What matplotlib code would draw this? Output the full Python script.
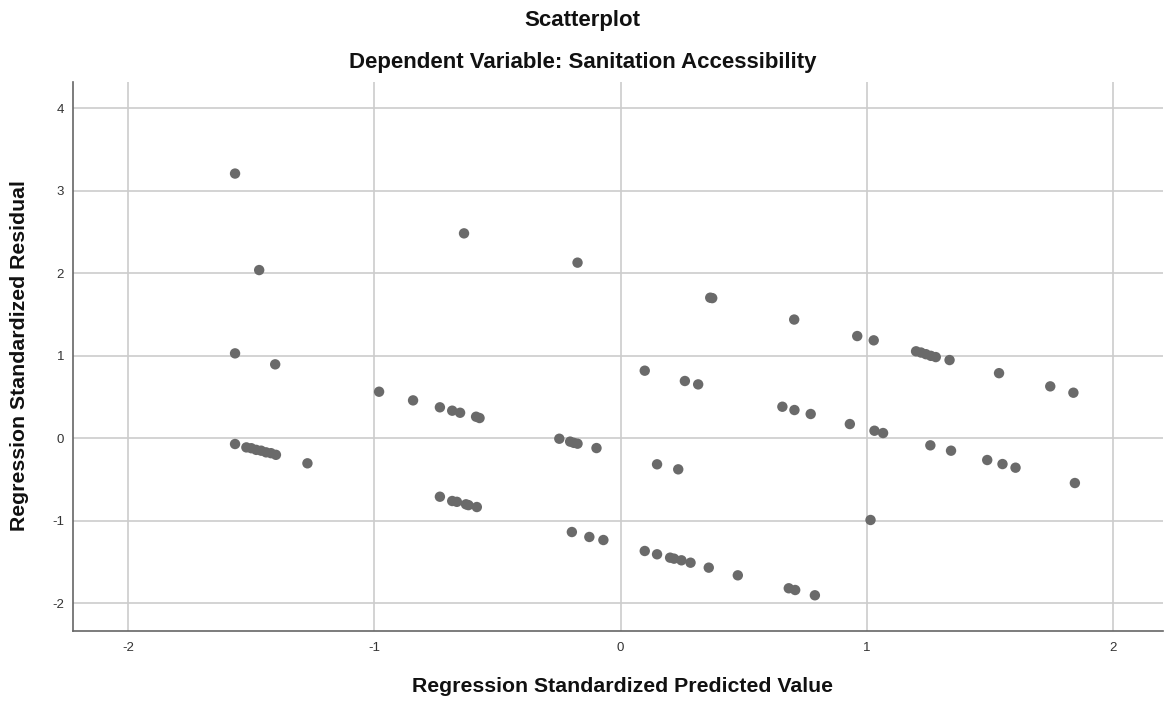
import matplotlib.pyplot as plt

plt.rcParams['font.family'] = ['Liberation Sans', 'DejaVu Sans']

# values
predicted = [
    -1.566, -1.468, -1.566, -1.403, -0.981, -1.566,
    -1.52, -1.50, -1.48, -1.46, -1.44, -1.42, -1.40, -1.272,
    -0.636, -0.175, 0.364, 0.372, 0.705,
    -0.843, -0.734, -0.684, -0.652, -0.587, -0.573,
    -0.249, -0.205, -0.19, -0.175, -0.098,
    0.098, 0.261, 0.315, 0.657, 0.706, 0.772, 0.931, 1.031, 1.066,
    0.148, 0.234,
    -0.734, -0.684, -0.665, -0.628, -0.618, -0.584,
    -0.198, -0.127, -0.07,
    0.098, 0.148, 0.201, 0.217, 0.247, 0.284, 0.358, 0.476, 0.683, 0.709, 0.789,
    0.961, 1.028, 1.20, 1.22, 1.24, 1.26, 1.28, 1.336,
    1.537, 1.745, 1.839,
    1.258, 1.342, 1.489, 1.551, 1.604, 1.845,
    1.015,
]
residual = [
    3.21, 2.04, 1.03, 0.897, 0.565, -0.069,
    -0.11, -0.12, -0.14, -0.15, -0.17, -0.18, -0.20, -0.303,
    2.485, 2.13, 1.705, 1.70, 1.44,
    0.46, 0.376, 0.335, 0.31, 0.262, 0.246,
    -0.005, -0.04, -0.055, -0.065, -0.118,
    0.82, 0.695, 0.654, 0.383, 0.343, 0.295, 0.173, 0.092, 0.064,
    -0.315, -0.376,
    -0.708, -0.76, -0.77, -0.80, -0.81, -0.833,
    -1.136, -1.196, -1.233,
    -1.366, -1.406, -1.447, -1.459, -1.479, -1.508, -1.568, -1.661, -1.818, -1.839, -1.903,
    1.24, 1.188, 1.055, 1.04, 1.02, 1.00, 0.985, 0.949,
    0.79, 0.63, 0.553,
    -0.085, -0.150, -0.263, -0.312, -0.356, -0.542,
    -0.990,
]
x_ticks = [-2, -1, 0, 1, 2]
y_ticks = [-2, -1, 0, 1, 2, 3, 4]

fig = plt.figure(figsize=(11.65, 7.07), dpi=100)
ax = fig.add_axes([0.0627, 0.1075, 0.9356, 0.7765])

ax.scatter(predicted, residual, s=56, color='#6a6a6a', edgecolors='none', zorder=3)

ax.set_xlim(-2.224, 2.203)
ax.set_ylim(-2.336, 4.32)
ax.set_xticks(x_ticks)
ax.set_yticks(y_ticks)
ax.set_xticklabels([str(t) for t in x_ticks])
ax.set_yticklabels([str(t) for t in y_ticks])
ax.tick_params(length=0, labelsize=9.5, colors='#333333')
ax.tick_params(axis='x', pad=8)
ax.tick_params(axis='y', pad=6.5)

ax.grid(True, color='#cccccc', linewidth=1.2, zorder=0)
ax.set_axisbelow(True)
for side in ['top', 'right']:
    ax.spines[side].set_visible(False)
for side in ['left', 'bottom']:
    ax.spines[side].set_color('#666666')
    ax.spines[side].set_linewidth(1.2)

fig.text(0.5, 1 - 26 / 707, 'Scatterplot', ha='center', va='baseline', fontsize=16,
         fontweight='bold', color='#111111')
fig.text(0.5, 1 - 68 / 707, 'Dependent Variable: Sanitation Accessibility', ha='center', va='baseline',
         fontsize=16, fontweight='bold', color='#111111')
fig.text(622.5 / 1165, 1 - 691.7 / 707, 'Regression Standardized Predicted Value', ha='center', va='baseline',
         fontsize=15.3, fontweight='bold', color='#111111')
fig.text(19.5 / 1165, 1 - 356 / 707, 'Regression Standardized Residual', ha='center', va='center',
         rotation=90, fontsize=15.3, fontweight='bold', color='#111111')

fig.savefig('out.png', dpi=100)
